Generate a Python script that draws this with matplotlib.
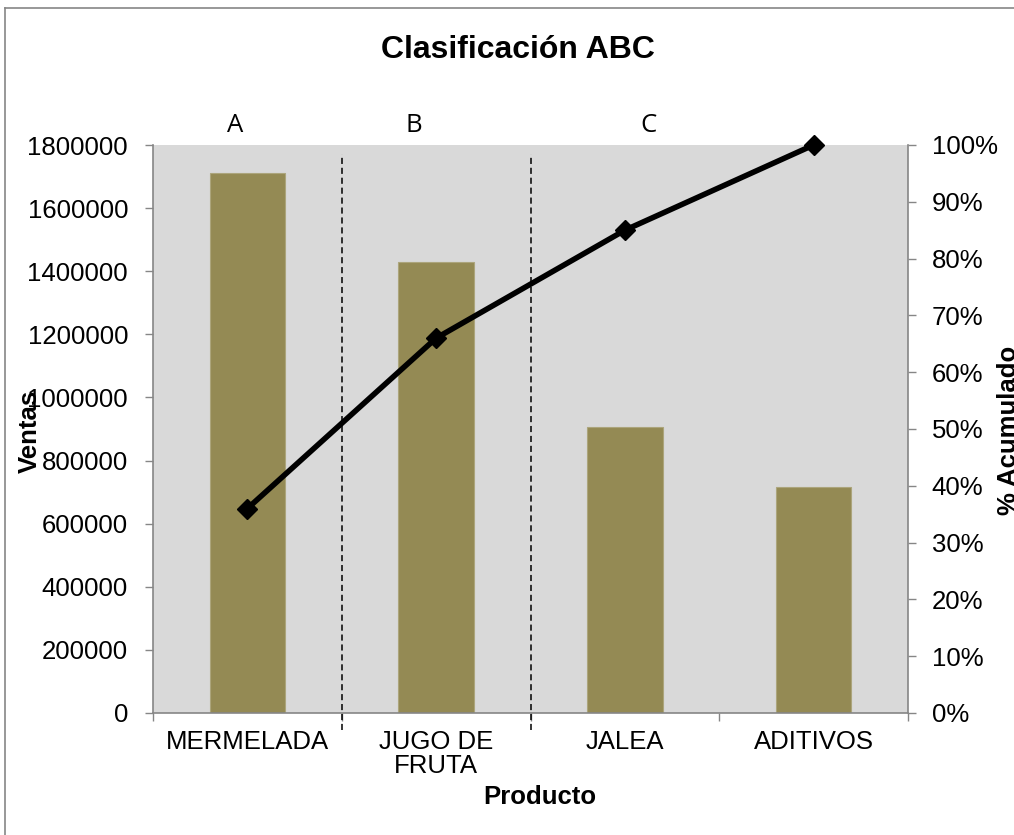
import matplotlib
matplotlib.use("Agg")
import matplotlib.pyplot as plt
from matplotlib.lines import Line2D
from matplotlib.ticker import FuncFormatter, FixedLocator

# ---- data ----
categorias = ["MERMELADA", "JUGO DE\nFRUTA", "JALEA", "ADITIVOS"]
ventas = [1710000, 1428000, 905000, 716000]
pct_acumulado = [36, 66, 85, 100]
clases = ["A", "B", "C"]
y_ticks = [0, 200000, 400000, 600000, 800000, 1000000, 1200000, 1400000, 1600000, 1800000]
pct_ticks = [0, 10, 20, 30, 40, 50, 60, 70, 80, 90, 100]

W, H = 1014, 835
fig = plt.figure(figsize=(W / 100, H / 100), dpi=100)
fig.patch.set_facecolor("white")

# outer chart border (left & top visible)
fig.add_artist(Line2D([5 / W, 5 / W], [0, 1 - 8 / H], transform=fig.transFigure,
                      color="#868686", lw=1.2))
fig.add_artist(Line2D([5 / W, 1], [1 - 8 / H, 1 - 8 / H], transform=fig.transFigure,
                      color="#868686", lw=1.2))

left, right, top, bottom = 153, 908, 145, 713
ax = fig.add_axes([left / W, 1 - bottom / H, (right - left) / W, (bottom - top) / H])
ax.set_facecolor("#d9d9d9")

x = list(range(len(categorias)))
ax.bar(x, ventas, width=0.4, color="#948a54", edgecolor="#aca57c", linewidth=0.8, zorder=2)
ax.set_xlim(-0.5, len(categorias) - 0.5)
ax.set_ylim(0, 1800000)

font = "Liberation Sans"
tick_fs = 18.5

ax.yaxis.set_major_locator(FixedLocator(y_ticks))
ax.yaxis.set_major_formatter(FuncFormatter(lambda v, p: f"{int(v)}"))
ax.set_xticks(x)
ax.set_xticklabels(categorias)
ax.set_xticks([i - 0.5 for i in range(len(categorias) + 1)], minor=True)
ax.tick_params(axis="x", which="major", length=0, pad=12, labelsize=tick_fs)
ax.tick_params(axis="x", which="minor", length=6, width=1, color="#868686", direction="out")
ax.tick_params(axis="y", length=6, width=1, color="#868686", direction="out", pad=12,
               labelsize=tick_fs)
for lab in ax.get_xticklabels() + ax.get_yticklabels():
    lab.set_fontfamily(font)
    lab.set_linespacing(1.0)

for s in ["top", "right"]:
    ax.spines[s].set_visible(False)
for s in ["left", "bottom"]:
    ax.spines[s].set_color("#868686")
    ax.spines[s].set_linewidth(1.2)

# class separators
for b in [0.5, 1.5]:
    ax.axvline(b, ymin=-0.03, ymax=0.985, color="black", lw=1.1,
               linestyle=(0, (4, 2.5)), clip_on=False, zorder=3)

# secondary axis
ax2 = ax.twinx()
ax2.set_ylim(0, 100)
ax2.yaxis.set_major_locator(FixedLocator(pct_ticks))
ax2.yaxis.set_major_formatter(FuncFormatter(lambda v, p: f"{int(v)}%"))
ax2.tick_params(axis="y", length=6, width=1, color="#868686", direction="out", pad=11,
                labelsize=tick_fs)
for lab in ax2.get_yticklabels():
    lab.set_fontfamily(font)
for s in ["top", "left", "bottom"]:
    ax2.spines[s].set_visible(False)
ax2.spines["right"].set_color("#868686")
ax2.spines["right"].set_linewidth(1.2)

ax2.plot(x, pct_acumulado, color="black", lw=4, marker="D", markersize=10,
         clip_on=False, zorder=5)

# class letters
for lbl, px in zip(clases, [235, 414, 648]):
    fig.text(px / W, 1 - 125 / H, lbl, ha="center", va="center",
             fontsize=18.5, fontfamily="Open Sans")

# titles
fig.text(518 / W, 1 - 50 / H, "Clasificación ABC", ha="center", va="center",
         fontsize=23, fontweight="bold", fontfamily=font)
fig.text(540 / W, 1 - 797 / H, "Producto", ha="center", va="center",
         fontsize=18.5, fontweight="bold", fontfamily=font)
fig.text(30 / W, 1 - 431 / H, "Ventas", ha="center", va="center", rotation=90,
         fontsize=18.5, fontweight="bold", fontfamily=font)
fig.text(1009 / W, 1 - 430 / H, "% Acumulado", ha="center", va="center", rotation=90,
         fontsize=18.5, fontweight="bold", fontfamily=font)

fig.savefig("out.png", dpi=100)
